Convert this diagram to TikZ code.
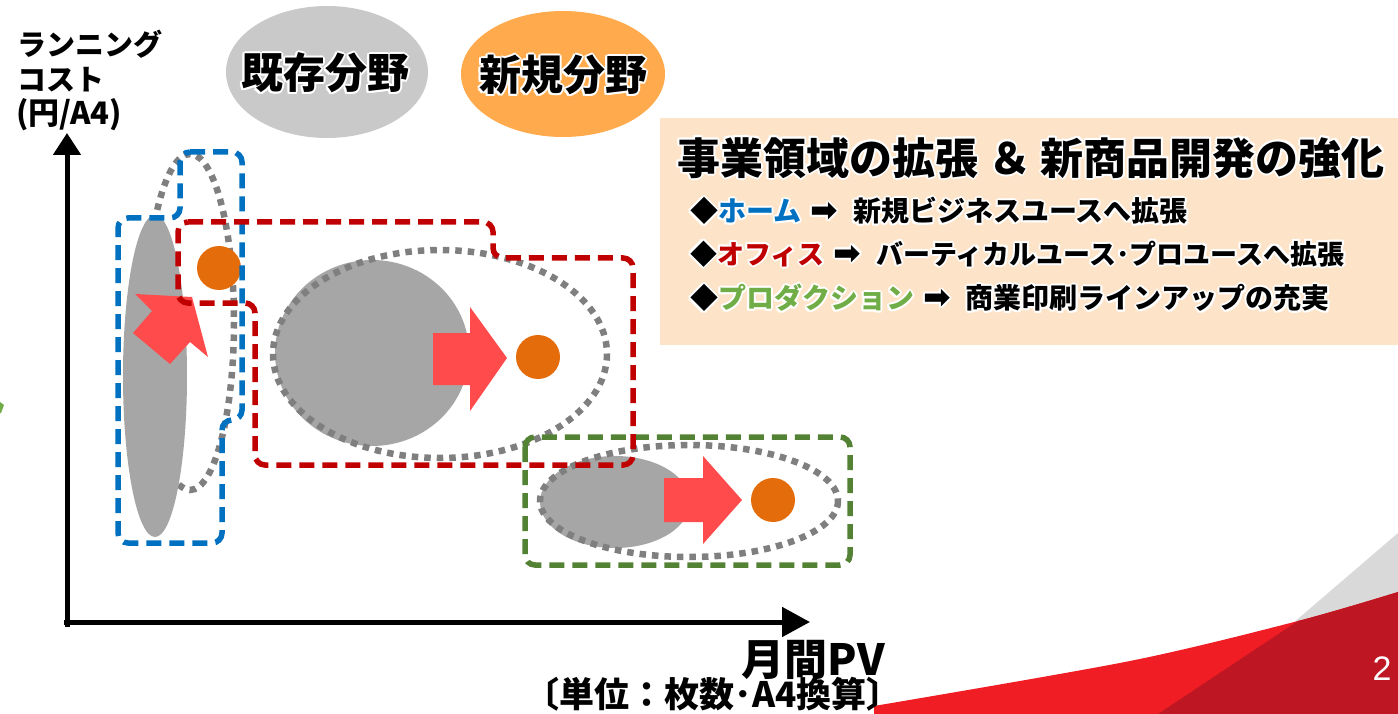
\documentclass[tikz,border=0pt]{standalone}
\usepackage{fontspec}
\setmainfont{Noto Sans CJK JP}
\newfontfamily\dejavu{DejaVu Sans}
\newfontfamily\arialfont{Liberation Sans}
\usetikzlibrary{arrows.meta}
\definecolor{grayfill}{HTML}{A6A6A6}
\definecolor{dotgray}{HTML}{7F7F7F}
\definecolor{bluebox}{HTML}{0070C0}
\definecolor{redbox}{HTML}{C00000}
\definecolor{greenbox}{RGB}{84,130,53}
\definecolor{greentext}{HTML}{70AD47}
\definecolor{dotorange}{HTML}{E46C0A}
\definecolor{arrowred}{HTML}{FF4B4B}
\definecolor{oldfield}{HTML}{C9C9C9}
\definecolor{newfield}{HTML}{FFAB4D}
\definecolor{legendbg}{HTML}{FDE4C8}
\definecolor{swred}{HTML}{F01D25}
\definecolor{swdark}{HTML}{BE1622}
\definecolor{swgray}{HTML}{D9D9D9}
\newif\ifhalo
\newcommand\cc[2]{\ifhalo #2\else\textcolor{#1}{#2}\fi}
\newcommand\glowoff[3]{\rlap{\kern#1\raisebox{#2}{\halotrue\color{white}#3}}}
\newcommand\glow[1]{\glowoff{-2pt}{0pt}{#1}\glowoff{2pt}{0pt}{#1}\glowoff{0pt}{2pt}{#1}\glowoff{0pt}{-2pt}{#1}\glowoff{-1.5pt}{1.5pt}{#1}\glowoff{1.5pt}{1.5pt}{#1}\glowoff{-1.5pt}{-1.5pt}{#1}\glowoff{1.5pt}{-1.5pt}{#1}#1}
\newcommand\rarr{\hspace{9pt}{\dejavu\fontsize{33}{34}\selectfont ➡}\hspace{15pt}}
\tikzset{
  dashbox/.style={line width=5.5pt, dash pattern=on 15pt off 8pt, rounded corners=10pt},
  dotring/.style={draw=dotgray, line width=6.5pt, dash pattern=on 6.5pt off 6pt},
  grayblob/.style={fill=grayfill},
  bigarrow/.style={fill=arrowred},
  orangedot/.style={fill=dotorange},
  axislab/.style={font=\bfseries\fontsize{29}{35}\selectfont, inner sep=0pt, anchor=west},
  fieldlab/.style={font=\bfseries\fontsize{42}{50}\selectfont, inner sep=0pt},
  legline/.style={font=\bfseries\fontsize{28}{34}\selectfont, inner sep=0pt, anchor=west},
  axisline/.style={line width=5pt, -{Triangle[length=22pt,width=27pt]}}
}
\begin{document}
\begin{tikzpicture}[x=1pt,y=-1pt]
\useasboundingbox (0,0) rectangle (1398,714);
% bottom-right decoration
\fill[swgray] (1285,630) -- (1398,533) -- (1398,640) -- cycle;
\begin{scope}
  \clip plot[smooth] coordinates {(874,706) (1130,661) (1298,621) (1398,592)} -- (1398,714) -- (874,714) -- cycle;
  \fill[swred] (860,560) rectangle (1398,714);
  \fill[swdark] (1158,714) -- (1298,621) -- (1420,540) -- (1420,714) -- cycle;
\end{scope}
\node[font=\arialfont\fontsize{34}{40}\selectfont, text=white, inner sep=0pt] (pagenum) at (1382,669) {2};
% tiny cut-off mark at the left edge
\fill[greentext] (0,402) -- (4,405) -- (1,413) -- (0,413) -- cycle;
% legend
\fill[legendbg] (660,118) rectangle (1398,345);
\node[font=\bfseries\fontsize{43}{50}\selectfont, inner sep=0pt] (legtitle) at (1031,158) {\glow{事業領域の拡張 ＆ 新商品開発の強化}};
\node[legline] (leg1) at (690,211) {\glow{◆\cc{bluebox}{ホーム}\rarr 新規ビジネスユースへ拡張}};
\node[legline, font=\bfseries\fontsize{27}{34}\selectfont] (leg2) at (690,254) {\glow{◆\cc{redbox}{オフィス}\rarr バーティカルユース･プロユースへ拡張}};
\node[legline] (leg3) at (690,298) {\glow{◆\cc{greentext}{プロダクション}\rarr 商業印刷ラインアップの充実}};
% field ellipses
\fill[oldfield] (327,72) ellipse [x radius=101, y radius=66];
\node[fieldlab] (oldlab) at (325,73) {\glow{既存分野}};
\fill[newfield] (563,74) ellipse [x radius=102, y radius=63];
\node[fieldlab] (newlab) at (563,75) {\glow{新規分野}};
% axes
\coordinate (origin) at (67,622);
\coordinate (ytip) at (67,133);
\coordinate (xtip) at (810,622);
\draw[axisline] (67,627) -- (ytip);
\draw[axisline, -{Triangle[length=28pt,width=29pt]}] (64,622) -- (xtip);
\node[axislab] (ylab1) at (17,44) {ランニング};
\node[axislab] (ylab2) at (17,80) {コスト};
\node[axislab, font=\bfseries\fontsize{31}{35}\selectfont] (ylab3) at (16,115) {(円/A4)};
\node[font=\bfseries\fontsize{43}{48}\selectfont, inner sep=0pt, anchor=east] (xlab1) at (885,660) {月間PV};
\node[font=\bfseries\fontsize{35}{40}\selectfont, inner sep=0pt, anchor=east] (xlab2) at (902,694) {〔単位：枚数･A4換算〕};
% home group
\draw[dotring] (190,322) ellipse [x radius=44, y radius=168];
\fill[grayblob] (155,376) ellipse [x radius=32, y radius=161];
% office group
\fill[grayblob] (372,353) ellipse [x radius=97, y radius=93];
\draw[dotring] (440,354) ellipse [x radius=167, y radius=104];
% production group
\fill[grayblob] (615,502) ellipse [x radius=75, y radius=46];
\draw[dotring] (689,501) ellipse [x radius=149, y radius=56];
% arrows
\fill[bigarrow] (192,297) -- (208,357) -- (190,342) -- (170,364) -- (133,333) -- (152,311) -- (135,294) -- cycle;
\fill[bigarrow] (433,333) -- (470,333) -- (470,307) -- (507,358) -- (470,411) -- (470,385) -- (433,385) -- cycle;
\fill[bigarrow] (664,478) -- (703,478) -- (703,456) -- (742,500) -- (703,544) -- (703,522) -- (664,522) -- cycle;
% dots
\fill[orangedot] (219,268) circle [radius=22];
\fill[orangedot] (538,357) circle [radius=22];
\fill[orangedot] (773,500) circle [radius=22];
% dashed boxes
\draw[dashbox, draw=greenbox] (525,437) rectangle (850,565);
\draw[dashbox, draw=bluebox] (180,152) -- (242,152) -- (242,420) -- (222,420) -- (222,543) -- (118,543) -- (118,218) -- (180,218) -- cycle;
\draw[dashbox, draw=redbox] (178,222) -- (493,222) -- (493,258) -- (633,258) -- (633,465) -- (255,465) -- (255,303) -- (178,303) -- cycle;
\end{tikzpicture}
\end{document}
